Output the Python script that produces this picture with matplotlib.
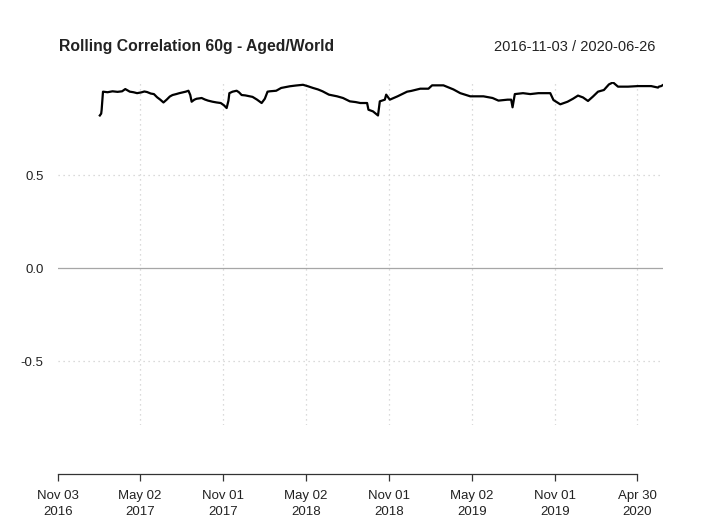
import matplotlib
matplotlib.use('Agg')
import matplotlib.pyplot as plt
import matplotlib.dates as mdates
import pandas as pd

plt.rcParams['font.family'] = ['Liberation Sans', 'DejaVu Sans']

title = 'Rolling Correlation 60g - Aged/World'
span_text = '2016-11-03 / 2020-06-26'

# rolling correlation
dates = [
    '2017-02-03', '2017-02-06', '2017-02-07', '2017-02-10', '2017-02-20', '2017-03-03',
    '2017-03-14', '2017-03-24', '2017-03-31', '2017-04-05', '2017-04-10', '2017-04-18',
    '2017-04-26', '2017-05-05', '2017-05-12', '2017-05-18', '2017-05-26', '2017-06-02',
    '2017-06-09', '2017-06-16', '2017-06-23', '2017-06-30', '2017-07-07', '2017-07-13',
    '2017-07-21', '2017-07-28', '2017-08-04', '2017-08-11', '2017-08-17', '2017-08-21',
    '2017-08-24', '2017-08-30', '2017-09-04', '2017-09-10', '2017-09-15', '2017-09-22',
    '2017-09-29', '2017-10-09', '2017-10-18', '2017-10-27', '2017-11-03', '2017-11-09',
    '2017-11-13', '2017-11-15', '2017-11-22', '2017-12-01', '2017-12-06', '2017-12-12',
    '2017-12-20', '2017-12-28', '2018-01-05', '2018-01-15', '2018-01-25', '2018-02-01',
    '2018-02-07', '2018-02-12', '2018-02-26', '2018-03-09', '2018-03-28', '2018-04-10',
    '2018-04-26', '2018-05-07', '2018-05-18', '2018-05-29', '2018-06-08', '2018-06-22',
    '2018-07-10', '2018-07-23', '2018-08-07', '2018-08-20', '2018-08-30', '2018-09-14',
    '2018-09-17', '2018-09-27', '2018-10-08', '2018-10-12', '2018-10-23', '2018-10-26',
    '2018-11-03', '2018-11-20', '2018-12-11', '2018-12-20', '2019-01-09', '2019-01-27',
    '2019-02-04', '2019-03-01', '2019-03-23', '2019-04-07', '2019-04-29', '2019-05-28',
    '2019-06-17', '2019-06-30', '2019-07-20', '2019-07-28', '2019-07-31', '2019-08-05',
    '2019-08-23', '2019-09-08', '2019-09-26', '2019-10-22', '2019-10-29', '2019-11-13',
    '2019-11-29', '2019-12-11', '2019-12-22', '2020-01-02', '2020-01-13', '2020-01-24',
    '2020-02-04', '2020-02-17', '2020-02-28', '2020-03-08', '2020-03-19', '2020-04-10',
    '2020-05-02', '2020-05-31', '2020-06-15', '2020-06-17', '2020-06-22', '2020-06-26',
]
corr = [
    0.820, 0.830, 0.850, 0.948, 0.945, 0.950,
    0.947, 0.950, 0.962, 0.955, 0.948, 0.945,
    0.940, 0.944, 0.949, 0.946, 0.938, 0.935,
    0.918, 0.905, 0.890, 0.905, 0.922, 0.930,
    0.935, 0.940, 0.944, 0.948, 0.953, 0.930,
    0.894, 0.905, 0.910, 0.912, 0.914, 0.906,
    0.900, 0.894, 0.890, 0.887, 0.875, 0.860,
    0.900, 0.940, 0.948, 0.953, 0.945, 0.930,
    0.928, 0.924, 0.920, 0.905, 0.887, 0.910,
    0.948, 0.950, 0.953, 0.968, 0.977, 0.981,
    0.985, 0.977, 0.968, 0.960, 0.950, 0.932,
    0.923, 0.914, 0.896, 0.892, 0.887, 0.887,
    0.851, 0.842, 0.820, 0.896, 0.905, 0.932,
    0.905, 0.923, 0.948, 0.952, 0.964, 0.964,
    0.982, 0.982, 0.960, 0.940, 0.923, 0.923,
    0.914, 0.900, 0.905, 0.905, 0.864, 0.935,
    0.940, 0.935, 0.940, 0.940, 0.903, 0.880,
    0.894, 0.910, 0.927, 0.917, 0.898, 0.922,
    0.948, 0.957, 0.987, 0.998, 0.975, 0.975,
    0.978, 0.978, 0.970, 0.975, 0.978, 0.984,
]

tick_dates = ['2016-11-03', '2017-05-02', '2017-11-01', '2018-05-02',
              '2018-11-01', '2019-05-02', '2019-11-01', '2020-04-30']
tick_labels = ['Nov 03\n2016', 'May 02\n2017', 'Nov 01\n2017', 'May 02\n2018',
               'Nov 01\n2018', 'May 02\n2019', 'Nov 01\n2019', 'Apr 30\n2020']
y_ticks = [-0.5, 0.0, 0.5]
y_labels = ['-0.5', '0.0', '0.5']

x = mdates.date2num(pd.to_datetime(dates))
xt = mdates.date2num(pd.to_datetime(tick_dates))

fig = plt.figure(figsize=(7.21, 5.26), dpi=100)
ax = fig.add_axes([58 / 721, 1 - 425 / 526, 605 / 721, 343 / 526])

grid_style = dict(color='#cfcfcf', linestyle=(0, (1, 3)), linewidth=0.9, zorder=1)
for t in xt[1:]:
    ax.axvline(t, **grid_style)
for v in y_ticks:
    if v != 0:
        ax.axhline(v, **grid_style)
ax.axhline(0, color='#a6a6a6', linewidth=0.9, zorder=1)

ax.plot(x, corr, color='black', linewidth=1.6, zorder=3)

ax.set_xlim(mdates.date2num(pd.Timestamp('2016-11-03')),
            mdates.date2num(pd.Timestamp('2020-06-26')))
ax.set_ylim(-0.844, 1.0)

for s in ['top', 'right', 'left']:
    ax.spines[s].set_visible(False)
ax.spines['bottom'].set_position(('outward', 35))
ax.spines['bottom'].set_bounds(xt[0], xt[-1])
ax.spines['bottom'].set_linewidth(0.9)
ax.spines['bottom'].set_color('#333333')

ax.set_xticks(xt)
ax.set_xticklabels(tick_labels, fontsize=9.5, color='#222222', linespacing=1.45)
ax.tick_params(axis='x', length=5, width=0.9, color='#333333', pad=6.5)
ax.set_yticks(y_ticks)
ax.set_yticklabels(y_labels, fontsize=9.5, color='#222222')
ax.tick_params(axis='y', length=0, pad=10.5)

fig.text(59 / 721, 1 - 47 / 526, title, fontsize=11.3, fontweight='bold',
         color='#222222', ha='left', va='center')
fig.text(655 / 721, 1 - 47 / 526, span_text, fontsize=10.5,
         color='#222222', ha='right', va='center')

fig.savefig('out.png', dpi=100)
